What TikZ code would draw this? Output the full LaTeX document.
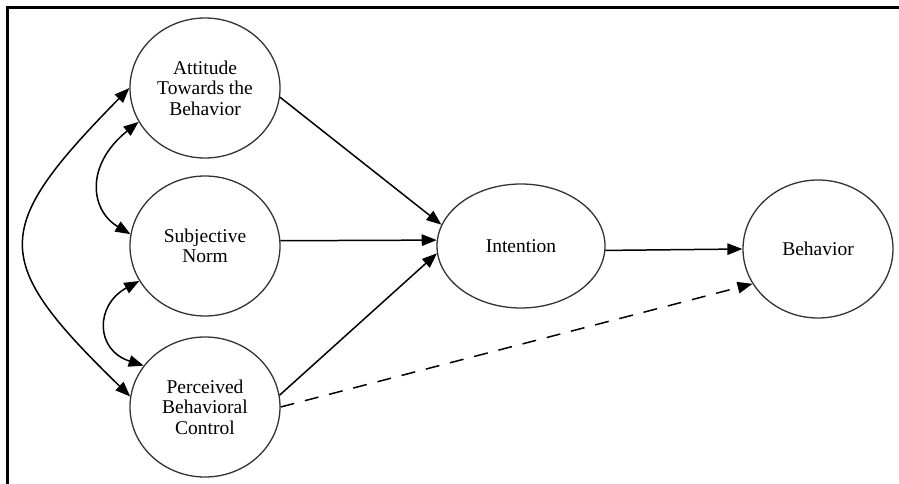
\documentclass[tikz,border=0pt]{standalone}
\usepackage{fontspec}
\setmainfont{Liberation Serif}
\newfontfamily\labelfont{Liberation Serif}
\usetikzlibrary{shapes.geometric,arrows.meta}
\begin{document}
\begin{tikzpicture}[x=1pt,y=-1pt,
  construct/.style={ellipse,draw=black!80,line width=1.3pt,inner sep=0pt,
    align=center,font=\labelfont\fontsize{19.5}{20.5}\selectfont},
  roundnode/.style={construct,minimum width=150pt,minimum height=140pt},
  link/.style={line width=1.5pt,-{Triangle[length=15pt,width=11.5pt]}},
  twoway/.style={line width=1.5pt,{Triangle[length=15pt,width=11.5pt]}-{Triangle[length=15pt,width=11.5pt]}}]
\fill[white] (0,0) rectangle (899,484);
\useasboundingbox (0,0) rectangle (899,484);
% frame
\draw[line width=2.5pt] (7.5,484) -- (7.5,7.5) -- (899,7.5);

% constructs
\node[roundnode] (att)  at (205,88)  {Attitude\\Towards the\\Behavior};
\node[roundnode] (subj) at (205,246) {Subjective\\Norm};
\node[roundnode] (pbc)  at (205,407) {Perceived\\Behavioral\\Control};
\node[construct,minimum width=168pt,minimum height=124pt] (int) at (521,246) {Intention};
\node[construct,minimum width=150pt,minimum height=138pt] (beh) at (818,249) {Behavior};

% correlations among the predictors
\draw[twoway] (att.180) .. controls (-10,230) and (-10,260) .. (pbc.172);
\draw[twoway] (att.207) .. controls (85,165) and (90,210) .. (subj.171);
\draw[twoway] (subj.208) .. controls (95,305) and (95,350) .. (pbc.146);

% paths
\draw[link] (att.-7) -- (int.165);
\draw[link] (subj.4) -- (int.176);
\draw[link] (pbc.9) -- (int.185);
\draw[link] (int.-3) -- (beh.180);
\draw[link,dash pattern=on 14pt off 11pt] (pbc.0) -- (beh.208);
\end{tikzpicture}
\end{document}
